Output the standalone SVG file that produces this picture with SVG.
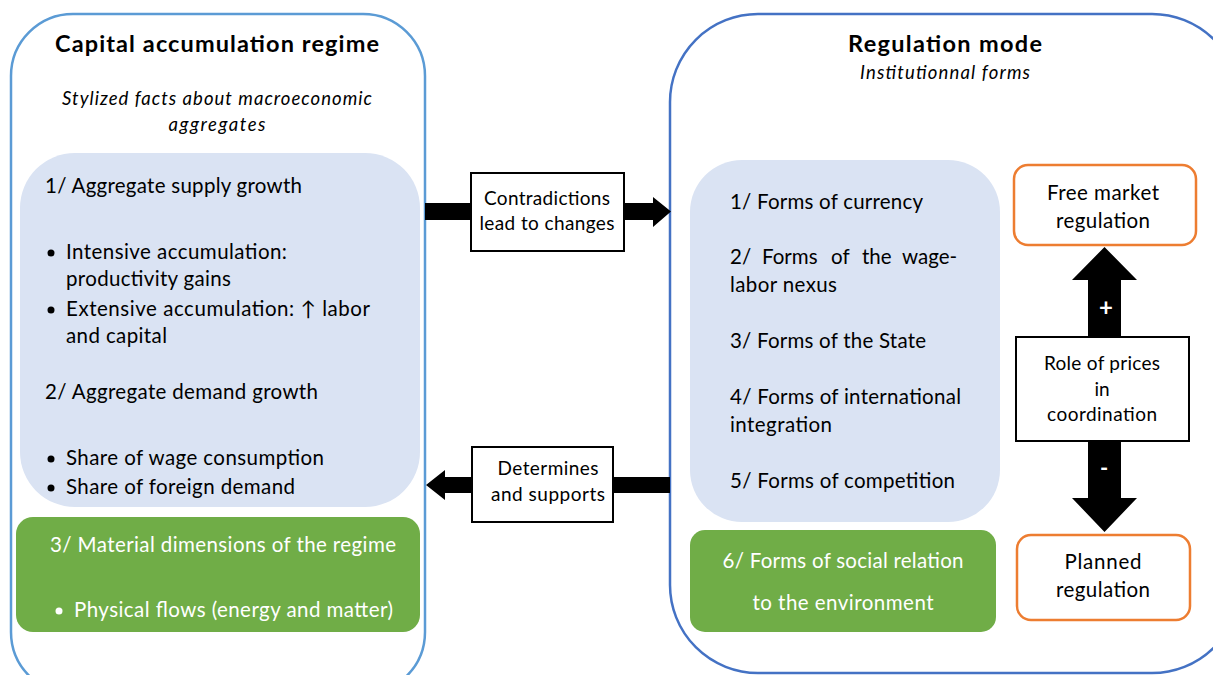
<svg xmlns="http://www.w3.org/2000/svg" width="1213" height="675" viewBox="0 0 1213 675">
<style>
text{font-family:Lato,"Liberation Sans",sans-serif;fill:#000}
.b{font-size:20.5px}
.w{fill:#fff}
.h{font-size:23.5px;font-weight:bold}
.i{font-size:18.5px;font-style:italic}
.s{font-size:19px}
.c{text-anchor:middle}
.box{fill:#fff;stroke:#000;stroke-width:2}
.or{fill:#fff;stroke:#ED7D31;stroke-width:2.5}
.lb{fill:#DAE3F3}
.gr{fill:#70AD47}
</style>
<rect width="1213" height="675" fill="#fff"/>
<g id="capital-regime">
<rect x="11" y="14" width="414" height="680" rx="62" fill="#fff" stroke="#5B9BD5" stroke-width="2.5"/>
<text class="h c" x="217" y="52" textLength="324">Capital accumulation regime</text>
<text class="i c" x="217" y="105" textLength="310">Stylized facts about macroeconomic</text>
<text class="i c" x="217" y="131" textLength="97">aggregates</text>
</g>
<g id="supply-demand">
<rect class="lb" x="20" y="153" width="400" height="354" rx="55"/>
<text class="b" x="45" y="193" textLength="257">1/ Aggregate supply growth</text>
<circle cx="51" cy="253" r="3.5"/>
<text class="b" x="66" y="259" textLength="221">Intensive accumulation:</text>
<text class="b" x="66" y="286" textLength="165">productivity gains</text>
<circle cx="51" cy="310" r="3.5"/>
<text class="b" x="66" y="316" textLength="304">Extensive accumulation: ↑ labor</text>
<text class="b" x="66" y="343" textLength="101">and capital</text>
<text class="b" x="45" y="399" textLength="273">2/ Aggregate demand growth</text>
<circle cx="51" cy="459" r="3.5"/>
<text class="b" x="66" y="465" textLength="258">Share of wage consumption</text>
<circle cx="51" cy="488" r="3.5"/>
<text class="b" x="66" y="494" textLength="229">Share of foreign demand</text>
</g>
<g id="material-dimensions">
<rect class="gr" x="16" y="517" width="404" height="115" rx="17"/>
<text class="b w" x="50" y="552" textLength="346">3/ Material dimensions of the regime</text>
<circle cx="59" cy="611" r="3.5" fill="#fff"/>
<text class="b w" x="74" y="617" textLength="319">Physical flows (energy and matter)</text>
</g>
<g id="regulation-mode">
<rect x="670" y="14" width="570" height="659" rx="88" fill="#fff" stroke="#4472C4" stroke-width="2.5"/>
<text class="h c" x="945" y="52" textLength="194">Regulation mode</text>
<text class="i c" x="945" y="79" textLength="170">Institutionnal forms</text>
</g>
<g id="institutional-forms">
<rect class="lb" x="690" y="160" width="310" height="362" rx="52"/>
<text class="b" x="730" y="209" textLength="193">1/ Forms of currency</text>
<text class="b" y="264"><tspan x="730">2/</tspan><tspan x="762">Forms</tspan><tspan x="831">of</tspan><tspan x="862">the</tspan><tspan x="902">wage-</tspan></text>
<text class="b" x="730" y="292" textLength="107">labor nexus</text>
<text class="b" x="730" y="348" textLength="196">3/ Forms of the State</text>
<text class="b" x="730" y="404" textLength="231">4/ Forms of international</text>
<text class="b" x="730" y="432" textLength="102">integration</text>
<text class="b" x="730" y="488" textLength="225">5/ Forms of competition</text>
</g>
<g id="social-environment">
<rect class="gr" x="690" y="530" width="306" height="102" rx="15"/>
<text class="b w c" x="843" y="568" textLength="241">6/ Forms of social relation</text>
<text class="b w c" x="843" y="610" textLength="181">to the environment</text>
</g>
<g id="free-market">
<rect class="or" x="1014" y="165" width="182" height="80" rx="14"/>
<text class="b c" x="1103" y="200" textLength="112">Free market</text>
<text class="b c" x="1103" y="228" textLength="94">regulation</text>
</g>
<g id="planned">
<rect class="or" x="1017" y="535" width="173" height="85" rx="14"/>
<text class="b c" x="1103" y="569" textLength="77">Planned</text>
<text class="b c" x="1103" y="597" textLength="94">regulation</text>
</g>
<g id="connectors">
<polygon points="425,203 653,203 653,197 671,211.5 653,227 653,220 425,220" fill="#000"/>
<polygon points="670,477 445,477 445,470 426,485 445,500 445,493 670,493" fill="#000"/>
<polygon points="1088,337 1088,280 1072,280 1104.5,247 1137,280 1121,280 1121,337" fill="#000"/>
<polygon points="1088,440 1088,498 1072,498 1104.5,532 1137,498 1121,498 1121,440" fill="#000"/>
<text class="c w" x="1106" y="316" style="font-size:24px;font-weight:bold">+</text>
<text class="c w" x="1104" y="476" style="font-size:22px;font-weight:bold">-</text>
</g>
<g id="label-contradictions">
<rect class="box" x="471" y="173" width="153" height="78"/>
<text class="s c" x="547" y="205" textLength="126">Contradictions</text>
<text class="s c" x="547" y="230" textLength="135">lead to changes</text>
</g>
<g id="label-determines">
<rect class="box" x="472" y="447" width="141" height="75"/>
<text class="s c" x="548" y="475" textLength="101">Determines</text>
<text class="s c" x="548" y="501" textLength="114">and supports</text>
</g>
<g id="role-prices">
<rect class="box" x="1016" y="337" width="173" height="104"/>
<text class="s c" x="1102" y="370" textLength="116">Role of prices</text>
<text class="s c" x="1102" y="396">in</text>
<text class="s c" x="1102" y="421" textLength="110">coordination</text>
</g>
</svg>
